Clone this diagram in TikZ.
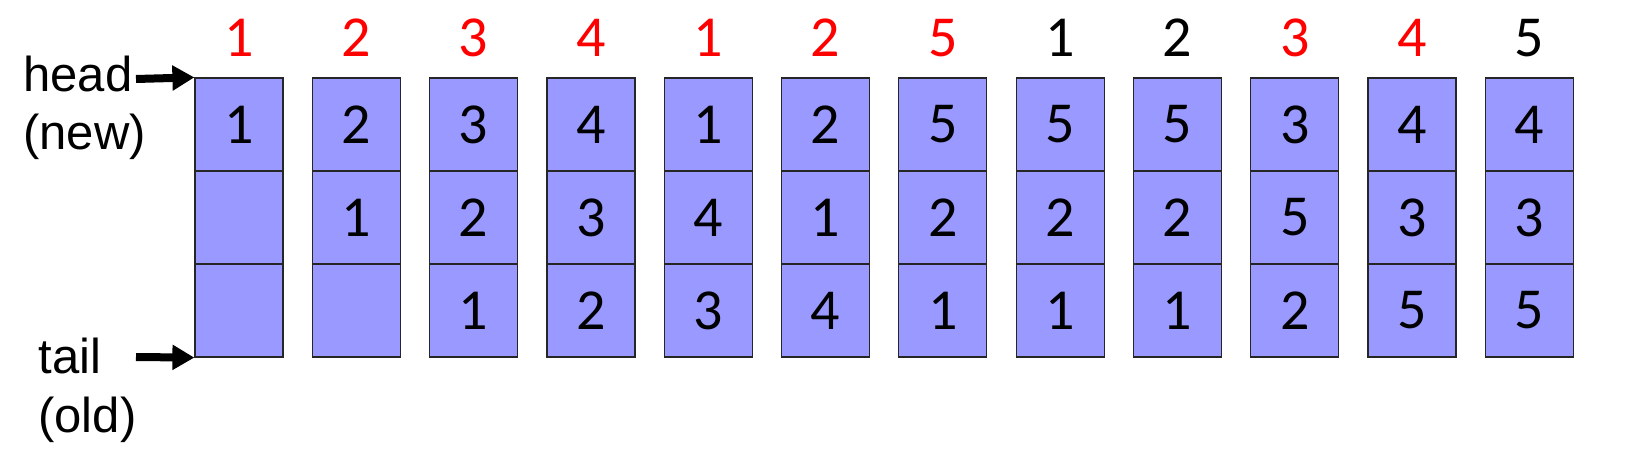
\documentclass[tikz,border=0pt]{standalone}
\usepackage{fontspec}
\setmainfont{Carlito}
\newfontfamily\labelfont{Liberation Sans}
\usetikzlibrary{positioning,arrows.meta}
\definecolor{framefill}{HTML}{9999FF}
\tikzset{
	cell/.style={draw=black!85, line width=0.6pt, fill=framefill, minimum width=44pt, minimum height=46.5pt, inner sep=0pt, font=\fontsize{29}{30}\selectfont},
	hit/.style={inner sep=0pt, font=\fontsize{29}{30}\selectfont},
	fault/.style={hit, text=red},
	side/.style={inner sep=0pt, anchor=base west, font=\labelfont\fontsize{24.5}{26}\selectfont},
	pointer/.style={-{Triangle[length=11pt, width=12pt]}, line width=4pt},
}

\begin{document}
\begin{tikzpicture}[x=0.5pt, y=-0.5pt]
			\useasboundingbox (0,0) rectangle (1644,470);
			% one frame column per reference
			\foreach \i/\r/\a/\b/\c/\s in {1/1/1///fault, 2/2/2/1//fault, 3/3/3/2/1/fault, 4/4/4/3/2/fault,
					5/1/1/4/3/fault, 6/2/2/1/4/fault, 7/5/5/2/1/fault, 8/1/5/2/1/hit,
					9/2/5/2/1/hit, 10/3/3/5/2/fault, 11/4/4/3/5/fault, 12/5/4/3/5/hit} {
				\node[cell] (c\i-1) at ({239+117.3*(\i-1)},124.5) {\a};
				\node[cell] (c\i-2) at ({239+117.3*(\i-1)},217.5) {\b};
				\node[cell] (c\i-3) at ({239+117.3*(\i-1)},310.5) {\c};
				\node[\s] (r\i) at ({239+117.3*(\i-1)},38) {\r};
			}
			
			\node[side] (head) at (23,92) {head};
			\node[side] (new) at (23,150) {(new)};
			\node[side] (tail) at (38,373) {tail};
			\node[side] (old) at (38,432) {(old)};
			\coordinate (headfrom) at (136,79);
			\coordinate (tailfrom) at (136,357);
			
			\draw[pointer] (headfrom) -- (c1-1.north west);
			\draw[pointer] (tailfrom) -- (c1-3.south west);
		\end{tikzpicture}
\end{document}
